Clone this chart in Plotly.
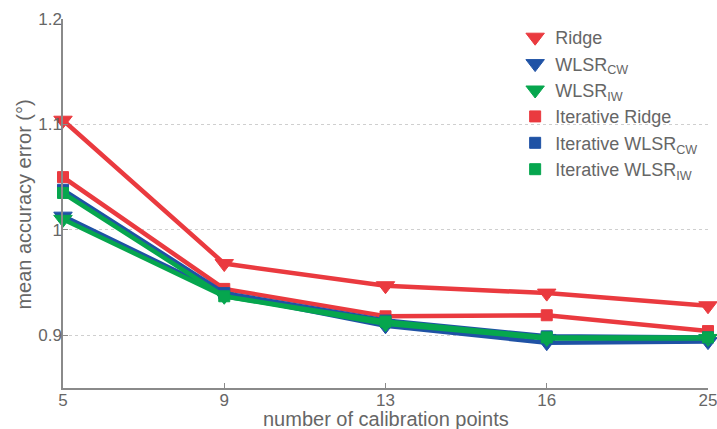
import plotly.graph_objects as go

# calibration point counts (categorical x axis)
calib_points = ["5", "9", "13", "16", "25"]

# mean accuracy error in degrees for each method
ridge = [1.104, 0.968, 0.947, 0.940, 0.928]
wlsr_cw = [1.013, 0.939, 0.909, 0.893, 0.894]
wlsr_iw = [1.010, 0.937, 0.911, 0.897, 0.897]
iter_ridge = [1.050, 0.944, 0.918, 0.919, 0.904]
iter_wlsr_cw = [1.038, 0.940, 0.914, 0.899, 0.898]
iter_wlsr_iw = [1.035, 0.937, 0.913, 0.898, 0.898]

y_ticks = [0.9, 1.0, 1.1, 1.2]
y_tick_text = ["0.9", "1", "1.1", "1.2"]

RED = "#EA3A3F"
BLUE = "#1F52A5"
GREEN = "#06A64E"
TEXT = "#666666"
AXIS = "#8A8A8A"
FONT = "Liberation Sans, Arial, sans-serif"

series = [
    ("Ridge", ridge, RED, "triangle-down", 16),
    ("WLSR<sub>CW</sub>", wlsr_cw, BLUE, "triangle-down", 16),
    ("WLSR<sub>IW</sub>", wlsr_iw, GREEN, "triangle-down", 16),
    ("Iterative Ridge", iter_ridge, RED, "square", 11),
    ("Iterative WLSR<sub>CW</sub>", iter_wlsr_cw, BLUE, "square", 11),
    ("Iterative WLSR<sub>IW</sub>", iter_wlsr_iw, GREEN, "square", 11),
]

fig = go.Figure()
for name, vals, color, symbol, size in series:
    # line with markers
    fig.add_trace(go.Scatter(
        x=calib_points, y=vals, mode="lines+markers", name=name,
        showlegend=False, cliponaxis=False,
        line=dict(color=color, width=4.5),
        marker=dict(symbol=symbol, size=size, color=color,
                    line=dict(color=color, width=1)),
    ))
    # marker-only legend entry
    fig.add_trace(go.Scatter(
        x=[None], y=[None], mode="markers", name=name, showlegend=True,
        marker=dict(symbol=symbol, size=size, color=color,
                    line=dict(color=color, width=1)),
    ))

fig.update_layout(
    width=717, height=429,
    margin=dict(l=63, r=9, t=19, b=41, autoexpand=False),
    paper_bgcolor="white", plot_bgcolor="white",
    font=dict(family=FONT, color=TEXT, size=17),
    legend=dict(
        x=0.701, y=1.0, xanchor="left", yanchor="top",
        bgcolor="rgba(0,0,0,0)", borderwidth=0,
        font=dict(size=18, color=TEXT, family=FONT),
        itemwidth=30, tracegroupgap=0,
    ),
    xaxis=dict(
        type="category", range=[0, 4], automargin=False,
        showgrid=False, zeroline=False,
        showline=True, linecolor=AXIS, linewidth=1.5,
        ticks="inside", ticklen=5, tickcolor=AXIS,
        ticklabelstandoff=-4,
        tickfont=dict(size=17, color=TEXT),
    ),
    yaxis=dict(
        range=[0.85, 1.2], automargin=False,
        tickvals=y_ticks, ticktext=y_tick_text,
        showgrid=True, gridcolor="#CFCFCF", griddash="dot", gridwidth=1,
        zeroline=False,
        showline=True, linecolor=AXIS, linewidth=1.5,
        ticks="inside", ticklen=5, tickcolor=AXIS,
        ticklabelstandoff=-4,
        tickfont=dict(size=17, color=TEXT),
    ),
    annotations=[
        dict(
            text="mean accuracy error (°)", textangle=-90,
            xref="paper", yref="paper", x=0, y=0.497,
            xanchor="center", yanchor="middle", xshift=-39, showarrow=False,
            font=dict(size=20, color=TEXT, family=FONT),
        ),
        dict(
            text="number of calibration points",
            xref="paper", yref="paper", x=0.5, y=0,
            xanchor="center", yanchor="middle", yshift=-31, showarrow=False,
            font=dict(size=20, color=TEXT, family=FONT),
        ),
    ],
)

fig.write_html("out.html")
